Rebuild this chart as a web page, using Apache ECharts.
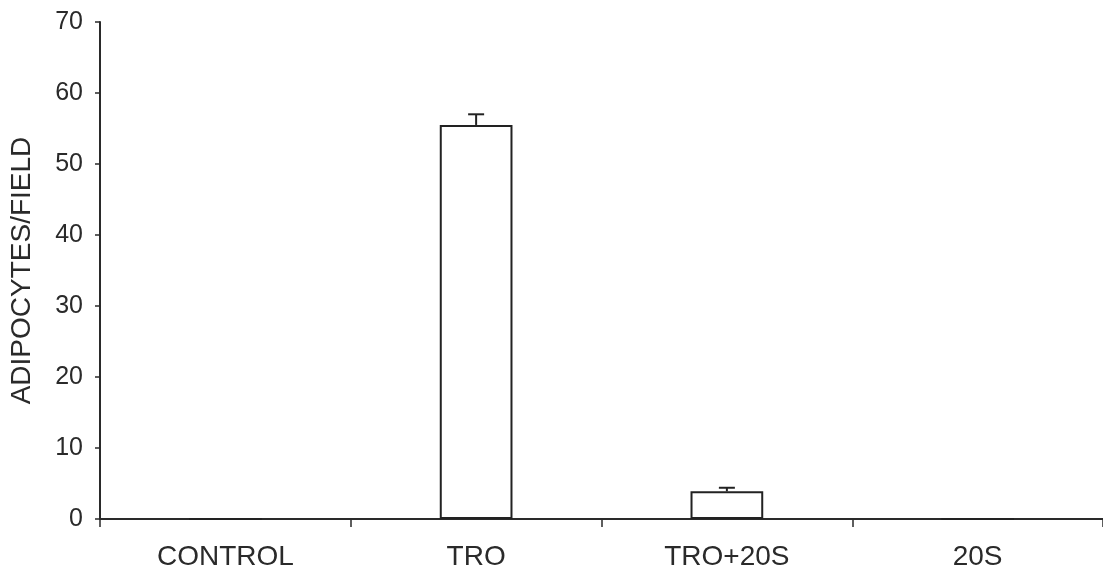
<!DOCTYPE html>
<html><head><meta charset="utf-8">
<script src="https://cdn.jsdelivr.net/npm/echarts@6/dist/echarts.min.js"></script>
<style>html,body{margin:0;padding:0;background:#fff}#c{width:1103px;height:579px}</style>
</head><body><div id="c"></div>
<script>
const categories = ['CONTROL', 'TRO', 'TRO+20S', '20S'];
const means = [0, 55.5, 3.9, 0];
const errors = [0, 1.5, 0.5, 0];
const yTicks = [0, 10, 20, 30, 40, 50, 60, 70];

const chart = echarts.init(document.getElementById('c'));
const ink = '#2a2a2a';
const font = 'Liberation Sans';
chart.setOption({
  animation: false,
  grid: {left: 100, right: 0, top: 22, bottom: 60},
  xAxis: {
    type: 'category', data: categories,
    axisLine: {lineStyle: {color: ink, width: 2}},
    axisTick: {show: true, alignWithLabel: false, length: 8, lineStyle: {color: ink, width: 1.5}},
    axisLabel: {color: ink, fontSize: 28, fontFamily: font, margin: 24, interval: 0}
  },
  yAxis: {
    type: 'value', min: 0, max: 70, interval: 10,
    name: 'ADIPOCYTES/FIELD', nameLocation: 'middle', nameGap: 64,
    nameTextStyle: {color: ink, fontSize: 28, fontFamily: font},
    axisLine: {show: true, lineStyle: {color: ink, width: 2}},
    axisTick: {show: true, length: 5, lineStyle: {color: ink, width: 1.5}},
    axisLabel: {color: ink, fontSize: 25, fontFamily: font, margin: 17,
      formatter: v => yTicks.includes(v) ? String(v) : ''},
    splitLine: {show: false}
  },
  series: [
    {type: 'bar', data: means, barWidth: '29%',
     itemStyle: {color: '#fff', borderColor: '#222', borderWidth: 2}},
    {type: 'custom', z: 5,
     data: means.map((m, i) => [i, m, errors[i]]),
     renderItem: (params, api) => {
       const i = api.value(0), m = api.value(1), e = api.value(2);
       if (!e) return {type: 'group', children: []};
       const p0 = api.coord([i, m]);
       const p1 = api.coord([i, m + e]);
       const w = 8;
       return {type: 'group', children: [
         {type: 'line', shape: {x1: p0[0], y1: p0[1], x2: p1[0], y2: p1[1]}, style: {stroke: '#222', lineWidth: 2}},
         {type: 'line', shape: {x1: p1[0] - w, y1: p1[1], x2: p1[0] + w, y2: p1[1]}, style: {stroke: '#222', lineWidth: 2}}
       ]};
     }}
  ]
});
</script></body></html>
